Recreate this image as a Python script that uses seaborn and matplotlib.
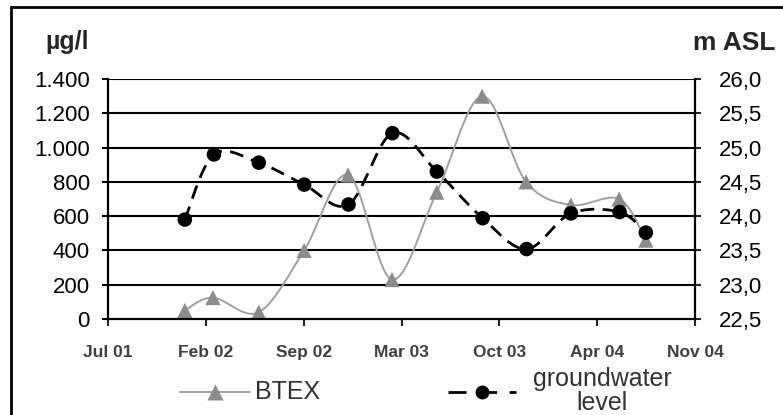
import numpy as np
import matplotlib
matplotlib.use("Agg")
import matplotlib.pyplot as plt
from matplotlib.lines import Line2D
import seaborn as sns

# ---- data (x in days since Jul 2001, ticks every 205 days) ----
days = [161, 220, 316, 411, 503, 595, 689, 784, 876, 970, 1071, 1127]
btex = [50, 125, 40, 400, 840, 230, 740, 1300, 800, 665, 700, 460]
gw_days = [161, 222, 316, 411, 504, 596, 689, 785, 877, 970, 1072, 1127]
gw = [23.95, 24.90, 24.78, 24.46, 24.17, 25.21, 24.65, 23.97, 23.52, 24.04, 24.06, 23.76]

x_ticks = [0, 205, 410, 615, 820, 1025, 1230]
x_labels = ["Jul 01", "Feb 02", "Sep 02", "Mar 03", "Oct 03", "Apr 04", "Nov 04"]
left_ticks = [0, 200, 400, 600, 800, 1000, 1200, 1400]
left_labels = ["0", "200", "400", "600", "800", "1.000", "1.200", "1.400"]
right_ticks = [22.5, 23.0, 23.5, 24.0, 24.5, 25.0, 25.5, 26.0]
right_labels = ["22,5", "23,0", "23,5", "24,0", "24,5", "25,0", "25,5", "26,0"]


def smooth(x, y, n=25):
    pts = np.column_stack([x, y]).astype(float)
    P = np.vstack([pts[0], pts, pts[-1]])
    out = []
    t = np.linspace(0, 1, n)[:, None]
    for i in range(1, len(P) - 2):
        p0, p1, p2, p3 = P[i - 1], P[i], P[i + 1], P[i + 2]
        c1 = p1 + (p2 - p0) / 6
        c2 = p2 - (p3 - p1) / 6
        b = (1 - t) ** 3 * p1 + 3 * (1 - t) ** 2 * t * c1 + 3 * (1 - t) * t ** 2 * c2 + t ** 3 * p2
        out.append(b if i == 1 else b[1:])
    return np.vstack(out)


sns.set_style("white")
plt.rcParams['font.family'] = ['Liberation Sans', 'DejaVu Sans']

W, H = 783, 415
fig = plt.figure(figsize=(W / 100, H / 100), dpi=100)
L, R, T, B = 108, 695, 79, 319
ax = fig.add_axes([L / W, 1 - B / H, (R - L) / W, (B - T) / H])
ax2 = ax.twinx()

BTEX_LINE = "#a0a0a0"
BTEX_MARK = "#8c8c8c"

# BTEX
sb = smooth(days, btex)
sns.lineplot(x=sb[:, 0], y=sb[:, 1], ax=ax, color=BTEX_LINE, lw=1.4, sort=False, estimator=None, zorder=3)
sns.scatterplot(x=days, y=btex, ax=ax, marker="^", s=120, color=BTEX_MARK, edgecolor="none", zorder=4)

# groundwater
sg = smooth(gw_days, gw)
sns.lineplot(x=sg[:, 0], y=sg[:, 1], ax=ax2, color="black", lw=2, sort=False, estimator=None,
             dashes=False, zorder=3).lines[-1].set_dashes((5, 3))
sns.scatterplot(x=gw_days, y=gw, ax=ax2, marker="o", s=110, color="black", edgecolor="none", zorder=4)

ax.set_xlim(0, 1230)
ax.set_ylim(0, 1400)
ax2.set_ylim(22.5, 26.0)
ax.set_xticks(x_ticks)
ax.set_xticklabels(x_labels, fontsize=12.5, fontweight="bold", color="#404040")
ax.set_yticks(left_ticks)
ax.set_yticklabels(left_labels, fontsize=16, color="black")
ax2.set_yticks(right_ticks)
ax2.set_yticklabels(right_labels, fontsize=16, color="black")

for a in (ax, ax2):
    for s in a.spines.values():
        s.set_visible(False)
ax.spines["left"].set_visible(True)
ax.spines["bottom"].set_visible(True)
ax2.spines["right"].set_visible(True)
for s in (ax.spines["left"], ax.spines["bottom"], ax2.spines["right"]):
    s.set_color("black")
    s.set_linewidth(1.6)
    s.set_zorder(5)

ax.grid(False)
ax2.grid(False)
for v in left_ticks[1:]:
    ax.axhline(v, color="black", lw=1.5, zorder=1)

ax.tick_params(axis="y", direction="out", length=4, width=1.5, pad=9, left=True, colors="black")
ax.tick_params(axis="x", direction="out", length=5, width=1.5, pad=14, bottom=True)
ax2.tick_params(axis="y", direction="out", length=4, width=1.5, pad=13, right=True)
ax.set_xlabel("")
ax.set_ylabel("")
ax2.set_ylabel("")

# unit labels
fig.text(45 / W, 1 - 49 / H, "µg/l", fontsize=18, fontweight="bold", ha="left", va="baseline")
fig.text(693 / W, 1 - 50 / H, "m ASL", fontsize=19, fontweight="bold", ha="left", va="baseline")

# legend (manual)
ly = 1 - 392 / H
fig.add_artist(Line2D([180 / W, 250 / W], [ly, ly], color=BTEX_LINE, lw=1.4, transform=fig.transFigure))
fig.add_artist(Line2D([215 / W], [ly], marker="^", ms=11, color=BTEX_MARK, mec="none", transform=fig.transFigure))
fig.text(255 / W, ly, "BTEX", fontsize=18, color="#333333", ha="left", va="center")
fig.add_artist(Line2D([448 / W, 516 / W], [ly, ly], color="black", lw=2, dashes=(6.5, 4.5), transform=fig.transFigure))
fig.add_artist(Line2D([482 / W], [ly], marker="o", ms=10, color="black", mec="none", transform=fig.transFigure))
fig.text(602 / W, 1 - 391 / H, "groundwater\nlevel", fontsize=18, color="#333333", ha="center", va="center",
         multialignment="center", linespacing=0.95)

# figure frame (left and top edges)
fig.add_artist(Line2D([11 / W, 11 / W], [0, 1 - 7 / H], color="black", lw=2, transform=fig.transFigure))
fig.add_artist(Line2D([11 / W, 1], [1 - 7 / H, 1 - 7 / H], color="black", lw=2, transform=fig.transFigure))

fig.savefig("out.png", dpi=100)
